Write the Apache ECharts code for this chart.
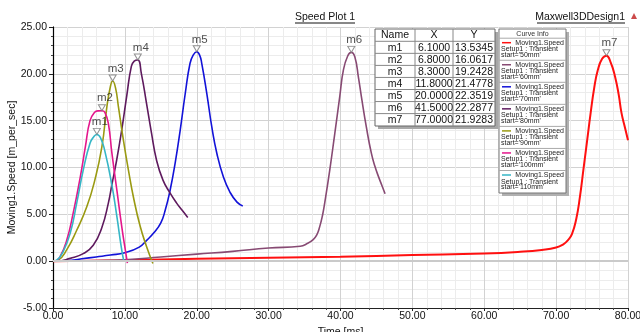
<!DOCTYPE html>
<html>
<head>
<meta charset="utf-8">
<script src="https://cdn.jsdelivr.net/npm/echarts@6/dist/echarts.min.js"></script>
<style>
  html, body { margin: 0; padding: 0; background: #fff; }
  #chart { width: 640px; height: 332px; }
</style>
</head>
<body>
<div id="chart"></div>
<script>
// marker table
const markerNames = ['m1', 'm2', 'm3', 'm4', 'm5', 'm6', 'm7']
const markerX = [6.1, 6.8, 8.3, 11.8, 20.0, 41.5, 77.0]
const markerY = [13.5345, 16.0617, 19.2428, 21.4778, 22.3519, 22.2877, 21.9283]

// curve info
const curveStarts = ['50mm', '60mm', '70mm', '80mm', '90mm', '100mm', '110mm']

// Time [ms] / Speed [m_per_sec] per curve
const t50 = [0, 5, 10, 20, 30, 40, 50, 60, 65, 68, 70, 71, 71.6, 72.2, 72.8, 73.3, 73.8, 74.3, 74.8, 75.3, 75.8, 76.4, 77, 77.6, 78.2, 78.7, 79.1, 79.6, 80]
const v50 = [0, 0.05, 0.1, 0.25, 0.37, 0.47, 0.65, 0.82, 1.0, 1.2, 1.46, 1.8, 2.2, 2.9, 4.5, 6.8, 9.8, 12.8, 15.8, 18.5, 20.4, 21.6, 21.93, 21.2, 19.7, 17.8, 15.8, 14.2, 12.9]

const t60 = [0, 5, 10, 15, 20, 25, 30, 34.4, 35.3, 36.2, 36.7, 37.1, 37.5, 37.8, 38.5, 39.2, 39.9, 40.4, 41.0, 41.5, 42.0, 42.5, 42.9, 43.6, 44.3, 44.8, 45.3, 45.8, 46.2]
const v60 = [0, 0.05, 0.15, 0.45, 0.75, 1.05, 1.4, 1.6, 1.85, 2.3, 2.8, 3.66, 4.9, 6.2, 9.7, 13.6, 17.6, 20.4, 21.9, 22.29, 21.8, 19.6, 17.6, 14.3, 11.5, 10.1, 9.0, 8.0, 7.2]

const t70 = [0, 2, 4, 6, 8, 10, 12, 13, 14, 15, 15.6, 16.3, 17, 17.7, 18.4, 19.06, 19.5, 20, 20.4, 20.7, 21.4, 22.1, 22.8, 23.7, 24.6, 25.6, 26.4]
const v70 = [0, 0.05, 0.25, 0.45, 0.65, 0.9, 1.5, 2.2, 3.0, 4.1, 5.4, 7.6, 10.5, 14.0, 17.9, 21.1, 22.0, 22.35, 22.0, 21.1, 17.9, 14.3, 11.5, 9.0, 7.4, 6.3, 5.9]

const t80 = [0, 0.5, 2.4, 4.2, 5.6, 6.8, 7.7, 8.2, 8.86, 9.56, 10.25, 10.9, 11.3, 11.8, 12.3, 13.0, 13.7, 14.4, 15.3, 16.3, 17.2, 18.0, 18.75]
const v80 = [0, 0, 0.3, 0.8, 1.7, 3.6, 6.2, 8.2, 10.8, 14.0, 17.6, 20.8, 21.35, 21.48, 20.0, 16.9, 13.7, 10.8, 8.65, 7.26, 6.2, 5.4, 4.67]

const t90 = [0, 0.7, 1.9, 3.3, 4.7, 5.8, 6.8, 7.5, 8.0, 8.3, 8.7, 9.1, 9.8, 10.5, 11.2, 12.1, 13.0, 13.9]
const v90 = [0, 0.1, 1.2, 3.3, 5.8, 8.6, 12.2, 16.5, 18.7, 19.24, 18.5, 16.5, 12.9, 9.7, 6.8, 3.8, 1.6, -0.25]

const t100 = [0, 0.3, 1.0, 1.9, 2.8, 3.8, 4.5, 5.15, 5.8, 6.3, 6.8, 7.2, 7.7, 8.2, 8.9, 9.6, 10.0, 10.35]
const v100 = [0, 0, 0.5, 2.2, 5.1, 9.0, 12.2, 15.0, 15.9, 16.05, 16.06, 15.9, 14.7, 11.5, 7.5, 3.5, 1.5, -0.2]

const t110 = [0, 0.5, 1.4, 2.4, 3.3, 4.2, 5.15, 5.7, 6.1, 6.6, 7.2, 8.2, 8.9, 9.5, 9.85]
const v110 = [0, 0.1, 1.0, 3.0, 6.2, 9.7, 12.6, 13.3, 13.53, 13.2, 11.8, 8.1, 4.7, 1.5, 0]

const curveT = [t50, t60, t70, t80, t90, t100, t110]
const curveV = [v50, v60, v70, v80, v90, v100, v110]
const curveColors = ['#ff1010', '#874a73', '#1212d8', '#5e1a5e', '#9a9a12', '#e4168c', '#36b6c6']

const FONT = 'Liberation Sans, Arial, sans-serif'
const chart = echarts.init(document.getElementById('chart'))

const lineSeries = curveT.map((t, i) => ({
  name: "start='" + curveStarts[i] + "'",
  type: 'line',
  data: t.map((x, k) => [x, curveV[i][k]]),
  smooth: 0.5,
  symbol: 'none',
  z: 3,
  lineStyle: { color: curveColors[i], width: i === 0 ? 2 : 1.6 },
}))

// table + curve info box
const graphics = []
const tx = 375, ty = 29, tw = 120, th = 97
graphics.push({ type: 'rect', shape: { x: tx + 3, y: ty + 3, width: tw, height: th }, style: { fill: '#a8a8a8' }, z: 10 })
graphics.push({ type: 'rect', shape: { x: tx, y: ty, width: tw, height: th }, style: { fill: '#fff', stroke: '#666', lineWidth: 1 }, z: 11 })
graphics.push({ type: 'line', shape: { x1: 415, y1: ty, x2: 415, y2: ty + th }, style: { stroke: '#888' }, z: 12 })
graphics.push({ type: 'line', shape: { x1: 453, y1: ty, x2: 453, y2: ty + th }, style: { stroke: '#888' }, z: 12 })
const colCx = [395, 434, 474]
;['Name', 'X', 'Y'].forEach((h, c) => {
  graphics.push({ type: 'text', x: colCx[c], y: 35.5, style: { text: h, font: '10.5px ' + FONT, fill: '#111', align: 'center', verticalAlign: 'middle' }, z: 12 })
})
markerNames.forEach((n, r) => {
  const ry = 47.7 + r * 12.05
  graphics.push({ type: 'line', shape: { x1: tx, y1: ry - 6.4, x2: tx + tw, y2: ry - 6.4 }, style: { stroke: '#888' }, z: 12 })
  const cells = [n, markerX[r].toFixed(4), markerY[r].toFixed(4)]
  cells.forEach((s, c) => {
    graphics.push({ type: 'text', x: colCx[c], y: ry, style: { text: s, font: '10.5px ' + FONT, fill: '#111', align: 'center', verticalAlign: 'middle' }, z: 12 })
  })
})

const lx = 499, ly = 29, lw = 67, lh = 164
graphics.push({ type: 'rect', shape: { x: lx + 3, y: ly + 3, width: lw, height: lh }, style: { fill: '#b0b0b0' }, z: 10 })
graphics.push({ type: 'rect', shape: { x: lx, y: ly, width: lw, height: lh }, style: { fill: '#fff', stroke: '#777', lineWidth: 1 }, z: 11 })
graphics.push({ type: 'text', x: lx + lw / 2, y: 34, style: { text: 'Curve Info', font: '7px ' + FONT, fill: '#333', align: 'center', verticalAlign: 'middle' }, z: 12 })
curveStarts.forEach((s, k) => {
  const ey = 42.7 + k * 22.05
  graphics.push({ type: 'line', shape: { x1: lx, y1: ey - 4.5, x2: lx + lw, y2: ey - 4.5 }, style: { stroke: '#aaa' }, z: 12 })
  graphics.push({ type: 'line', shape: { x1: lx + 3, y1: ey, x2: lx + 12, y2: ey }, style: { stroke: curveColors[k], lineWidth: 1.5 }, z: 12 })
  graphics.push({ type: 'text', x: lx + lw - 2, y: ey, style: { text: 'Moving1.Speed', font: '7px ' + FONT, fill: '#222', align: 'right', verticalAlign: 'middle' }, z: 12 })
  graphics.push({ type: 'text', x: lx + 2, y: ey + 6.6, style: { text: 'Setup1 : Transient', font: '7px ' + FONT, fill: '#222', align: 'left', verticalAlign: 'middle' }, z: 12 })
  graphics.push({ type: 'text', x: lx + 2, y: ey + 12, style: { text: "start='" + s + "'", font: '7px ' + FONT, fill: '#222', align: 'left', verticalAlign: 'middle' }, z: 12 })
})

// titles
graphics.push({ type: 'text', x: 325, y: 17, style: { text: 'Speed Plot 1', font: '10.5px ' + FONT, fill: '#111', align: 'center', verticalAlign: 'middle' } })
graphics.push({ type: 'line', shape: { x1: 295, y1: 23, x2: 355, y2: 23 }, style: { stroke: '#111' } })
graphics.push({ type: 'text', x: 625, y: 17, style: { text: 'Maxwell3DDesign1', font: '10.5px ' + FONT, fill: '#111', align: 'right', verticalAlign: 'middle' } })
graphics.push({ type: 'line', shape: { x1: 537, y1: 23, x2: 625, y2: 23 }, style: { stroke: '#111' } })
graphics.push({ type: 'polygon', shape: { points: [[631, 19], [637, 19], [634, 13]] }, style: { fill: '#cc4a4a' } })

const option = {
  animation: false,
  textStyle: { fontFamily: FONT },
  grid: { left: 53, right: 12, top: 27, bottom: 24, outerBoundsMode: 'none', containLabel: false },
  xAxis: {
    type: 'value', min: 0, max: 80, interval: 10,
    name: 'Time [ms]', nameLocation: 'middle', nameGap: 19, nameMoveOverlap: false,
    nameTextStyle: { fontSize: 10.5, color: '#111' },
    axisLine: { onZero: false, lineStyle: { color: '#222' } },
    axisTick: { length: 3, lineStyle: { color: '#222' } },
    minorTick: { show: true, splitNumber: 5, length: 2, lineStyle: { color: '#444' } },
    axisLabel: { fontSize: 10.5, color: '#111', margin: 3, formatter: v => v.toFixed(2) },
    splitLine: { lineStyle: { color: '#d2d2d2' } },
    minorSplitLine: { show: true, lineStyle: { color: '#ececec' } },
  },
  yAxis: [
    {
      type: 'value', min: -5, max: 25, interval: 5,
      name: 'Moving1.Speed [m_per_sec]', nameLocation: 'middle', nameGap: 35, nameMoveOverlap: false,
      nameTextStyle: { fontSize: 10.5, color: '#111' },
      axisLine: { show: true, onZero: false, lineStyle: { color: '#444' } },
      axisTick: { length: 4, lineStyle: { color: '#222' } },
      minorTick: { show: true, splitNumber: 5, length: 2, lineStyle: { color: '#444' } },
      axisLabel: { fontSize: 10.5, color: '#111', margin: 6, formatter: v => v.toFixed(2) },
      splitLine: { lineStyle: { color: '#d2d2d2' } },
      minorSplitLine: { show: true, lineStyle: { color: '#ececec' } },
    },
    {
      type: 'value', min: -5, max: 25, position: 'right',
      axisLine: { show: true, lineStyle: { color: '#000', width: 1.2 } },
      axisTick: { show: false }, axisLabel: { show: false }, splitLine: { show: false },
    },
  ],
  graphic: graphics,
  series: [
    {
      type: 'line', data: [], z: 1, silent: true,
      markLine: {
        silent: true, symbol: 'none', label: { show: false },
        lineStyle: { color: '#cacaca', width: 2, type: 'solid' },
        data: [{ yAxis: 0 }],
      },
    },
    ...lineSeries,
    {
      type: 'scatter', z: 5,
      data: markerNames.map((n, i) => ({ name: n, value: [markerX[i], markerY[i]] })),
      symbol: 'triangle', symbolRotate: 180, symbolSize: [7, 6], symbolOffset: [0, -3],
      itemStyle: { color: '#fff', borderColor: '#777', borderWidth: 1 },
      label: { show: true, position: 'top', distance: 0, offset: [3, 0], formatter: p => p.name, fontSize: 11.5, color: '#222' },
    },
  ],
}

chart.setOption(option)
</script>
</body>
</html>
